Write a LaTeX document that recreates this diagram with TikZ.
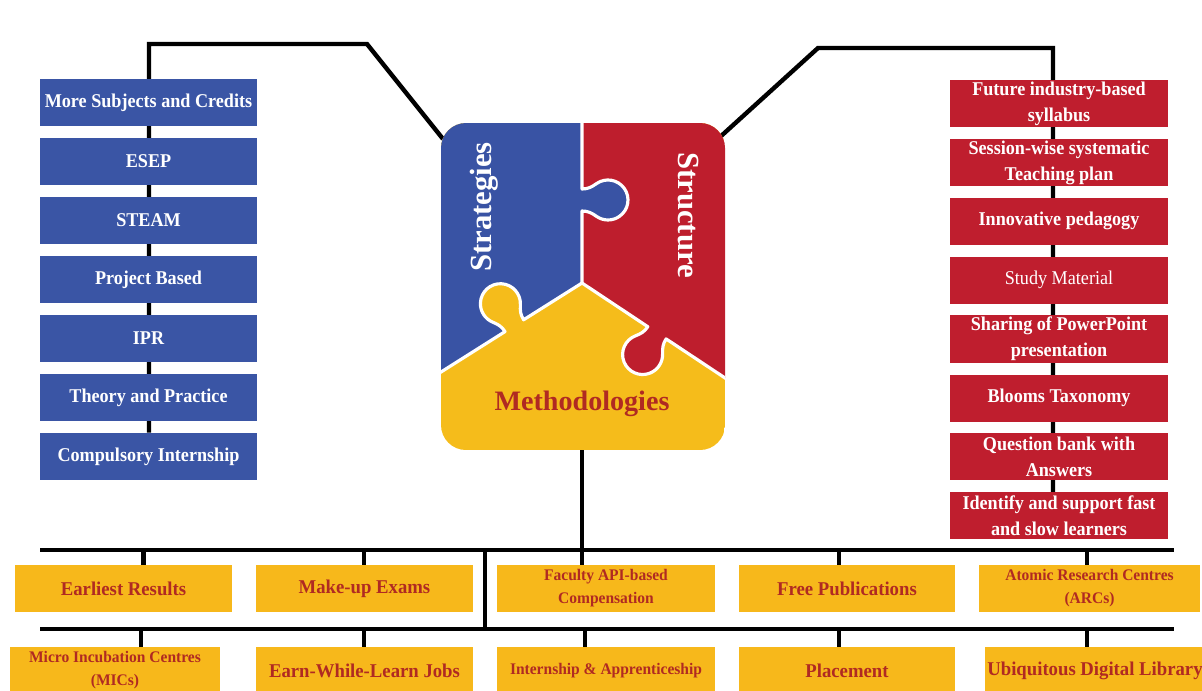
\documentclass[tikz,border=0pt]{standalone}
\usepackage{fontspec}
\setmainfont{Liberation Serif}
\newfontfamily\boxfont{Liberation Serif}[FakeStretch=0.93]
\newfontfamily\tagfont{Liberation Serif}[FakeStretch=0.96]
\usetikzlibrary{backgrounds}

\definecolor{sblue}{HTML}{3A55A5}
\definecolor{sred}{HTML}{BF1E2E}
\definecolor{syel}{HTML}{F7B81B}
\definecolor{tred}{HTML}{B02A22}
\definecolor{pblue}{HTML}{3953A4}
\definecolor{pred}{HTML}{BE1E2D}
\definecolor{pyel}{HTML}{F5BC1B}

% Puzzle dividers (pixel grid, y pointing down as negative values)
% A: top divider with the blue tab pushing into the red piece
\newcommand\pzdivA{(582,-105) -- (582,-189) to[out=0,in=215] (596.5,-183.6)
  arc[start angle=125,end angle=-125,radius=20] to[out=145,in=0] (582,-211) -- (582,-283)}
% B: lower-left divider with the yellow tab pushing into the blue piece
\newcommand\pzdivB{-- (523.6,-319.8) to[out=122.26,in=267.26] (520.38,-304.66)
  arc[start angle=-2.74,end angle=247.26,radius=20] to[out=337.26,in=122.26] (505.0,-331.6) -- (425.5,-381.8)}
% C: lower-right divider with the red tab pushing into the yellow piece
\newcommand\pzdivC{-- (647.8,-326.7) to[out=-123.59,in=21.41] (635.3,-335.9)
  arc[start angle=-248.59,end angle=1.41,radius=20] to[out=91.41,in=236.41] (666.1,-338.9) -- (740.3,-388.1)}

\begin{document}
\begin{tikzpicture}[x=0.02cm,y=0.02cm,
  box/.style={minimum height=0.94cm, inner sep=1pt, align=center,
    font=\boxfont\bfseries\fontsize{11.1}{14.8}\selectfont},
  bluebox/.style={box, fill=sblue, text=white, minimum width=4.34cm},
  redbox/.style={box, fill=sred, text=white, minimum width=4.36cm},
  yelbox/.style={box, fill=syel, text=tred, font=\tagfont\bfseries\fontsize{11.1}{14.8}\selectfont},
  smalltext/.style={font=\tagfont\bfseries\fontsize{9.2}{13}\selectfont},
  link/.style={line width=2.5pt, black},
  bus/.style={line width=2.8pt, black},
  divider/.style={white, line width=1.8pt, line join=round}]

\useasboundingbox (0,0) rectangle (1202,-690);
\clip (0,0) rectangle (1202,-690);

% ---------- central puzzle ----------
\begin{scope}
  \clip[rounded corners=0.5cm] (441,-123) rectangle (725,-450);
  \fill[pyel] (441,-123) rectangle (725,-450);
  \fill[pred] \pzdivA \pzdivC -- (760,-388) -- (760,-80) -- (582,-80) -- cycle;
  \fill[pblue] \pzdivA \pzdivB -- (400,-382) -- (400,-80) -- (582,-80) -- cycle;
  \draw[divider] \pzdivA \pzdivB;
  \draw[divider] (582,-283) \pzdivC;
\end{scope}
\node[text=white, rotate=90, font=\bfseries\fontsize{17.5}{20}\selectfont] (strat) at (484,-207) {Strategies};
\node[text=white, rotate=-90, font=\bfseries\fontsize{17.5}{20}\selectfont] (struc) at (688,-215) {Structure};
\node[text=tred, font=\bfseries\fontsize{16}{19}\selectfont] (meth) at (582,-404) {Methodologies};

\coordinate (pzTL) at (443,-139);
\coordinate (pzTR) at (720,-137);
\coordinate (pzS) at (582,-450);

% ---------- strategies column ----------
\node[bluebox] (lb1) at (148.5,-102.5) {More Subjects and Credits};
\node[bluebox] (lb2) at (148.5,-161.5) {ESEP};
\node[bluebox] (lb3) at (148.5,-220.5) {STEAM};
\node[bluebox] (lb4) at (148.5,-279.5) {Project Based};
\node[bluebox] (lb5) at (148.5,-338.5) {IPR};
\node[bluebox] (lb6) at (148.5,-397.5) {Theory and Practice};
\node[bluebox] (lb7) at (148.5,-456.5) {Compulsory Internship};

% ---------- structure column ----------
\node[redbox] (rb1) at (1059,-103.5) {Future industry-based\\syllabus};
\node[redbox] (rb2) at (1059,-162.4) {Session-wise systematic\\Teaching plan};
\node[redbox] (rb3) at (1059,-221.3) {Innovative pedagogy};
\node[redbox, font=\boxfont\mdseries\fontsize{11.1}{14.8}\selectfont] (rb4) at (1059,-280.2) {Study Material};
\node[redbox] (rb5) at (1059,-339.1) {Sharing of PowerPoint\\presentation};
\node[redbox] (rb6) at (1059,-398) {Blooms Taxonomy};
\node[redbox] (rb7) at (1059,-456.9) {Question bank with\\Answers};
\node[redbox] (rb8) at (1059,-515.8) {Identify and support fast\\and slow learners};

% ---------- methodologies rows ----------
\node[yelbox, minimum width=4.34cm] (er) at (123.5,-588.5) {Earliest Results};
\node[yelbox, minimum width=4.34cm] (me) at (364.5,-588.5) {Make-up Exams};
\node[yelbox, smalltext, minimum width=4.36cm] (fa) at (606,-588.5) {Faculty API-based\\Compensation};
\node[yelbox, minimum width=4.32cm] (fp) at (847,-588.5) {Free Publications};
\node[yelbox, smalltext, minimum width=4.42cm] (ar) at (1089.5,-588.5) {Atomic Research Centres\\(ARCs)};

\node[yelbox, smalltext, minimum width=4.2cm] (mi) at (115,-670.5) {Micro Incubation Centres\\(MICs)};
\node[yelbox, minimum width=4.34cm] (ew) at (364.5,-670.5) {Earn-While-Learn Jobs};
\node[yelbox, smalltext, minimum width=4.36cm] (ia) at (606,-670.5) {Internship \& Apprenticeship};
\node[yelbox, minimum width=4.32cm] (pl) at (847,-670.5) {Placement};
\node[yelbox, minimum width=4.4cm] (ud) at (1095,-670.5) {Ubiquitous Digital Library};

% ---------- connectors ----------
\coordinate (lk) at (367,-44);
\coordinate (lx) at (149,-44);
\coordinate (rk) at (818,-48);
\coordinate (rx) at (1053,-48);
\coordinate (busAw) at (40,-550);
\coordinate (busAe) at (1174,-550);
\coordinate (busBw) at (40,-629);
\coordinate (busBe) at (1174,-629);
\coordinate (mid) at (485,-550);
\coordinate (ka1) at (143.5,-550);
\coordinate (ka2) at (364,-550);
\coordinate (ka4) at (839,-550);
\coordinate (ka5) at (1087,-550);
\coordinate (kb1) at (141,-629);
\coordinate (kb2) at (364,-629);
\coordinate (kb3) at (585,-629);
\coordinate (kb4) at (839,-629);
\coordinate (kb5) at (1087,-629);

\begin{scope}[on background layer]
  \draw[link] (pzTL) -- (lk) -- (lx) -- (lx |- lb7.north);
  \draw[link] (pzTR) -- (rk) -- (rx) -- (rx |- rb8.north);
  \draw[link] (pzS) -- (pzS |- fa.north);
  \draw[bus] (busAw) -- (busAe);
  \draw[bus] (busBw) -- (busBe);
  \draw[link] (mid) -- (mid |- busBw);
  \foreach \k/\b in {ka1/er, ka2/me, ka4/fp, ka5/ar}
    \draw[link] (\k) -- (\k |- \b.north);
  \foreach \k/\b in {kb1/mi, kb2/ew, kb3/ia, kb4/pl, kb5/ud}
    \draw[link] (\k) -- (\k |- \b.north);
\end{scope}

\end{tikzpicture}
\end{document}
